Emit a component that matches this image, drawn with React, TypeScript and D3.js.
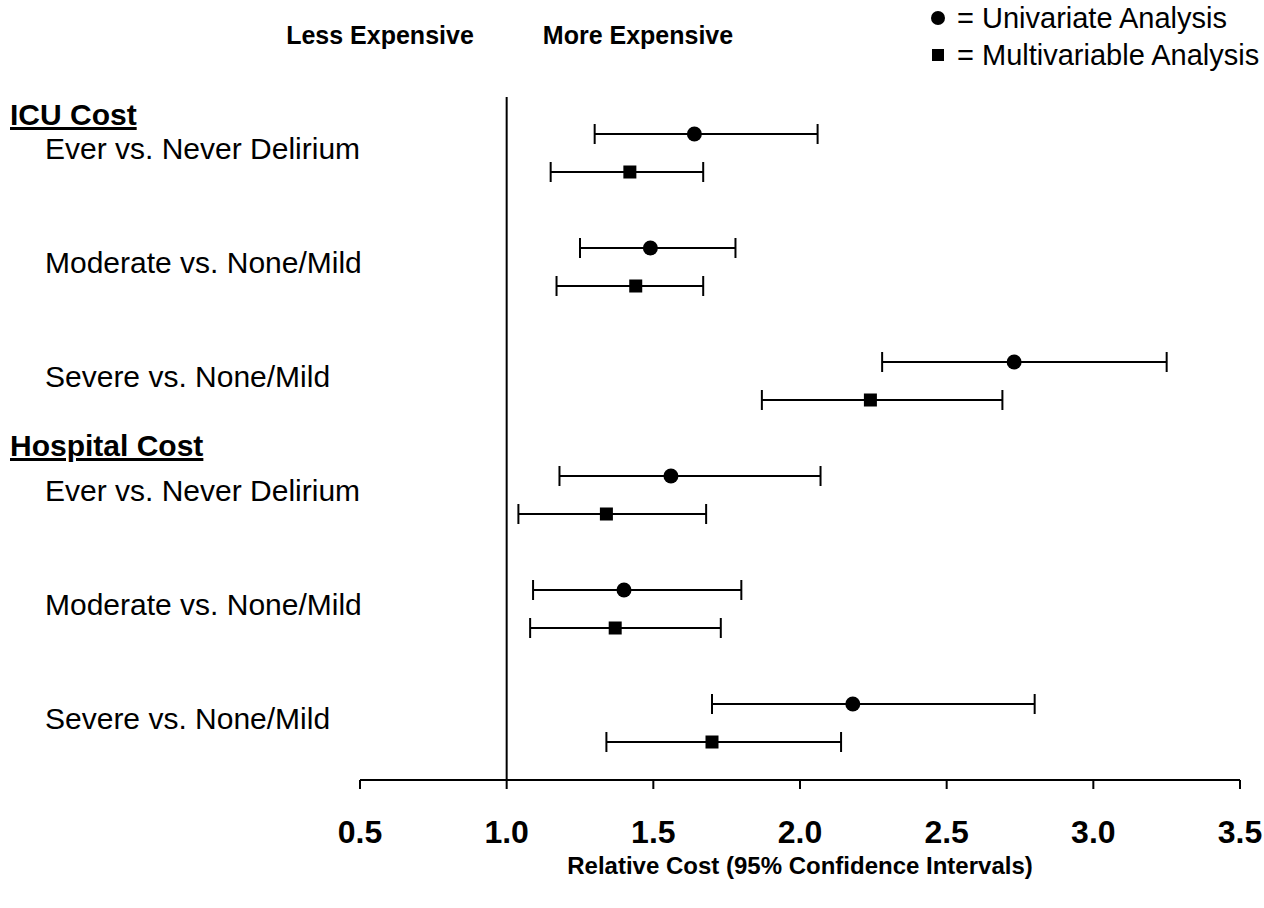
import React from 'react';
import * as d3 from 'd3';

// Data
const groups = ['ICU Cost', 'Hospital Cost'];
const comparisons = ['Ever vs. Never Delirium', 'Moderate vs. None/Mild', 'Severe vs. None/Mild'];

const uniEst = [1.64, 1.49, 2.73, 1.56, 1.40, 2.18];
const uniLow = [1.30, 1.25, 2.28, 1.18, 1.09, 1.70];
const uniHigh = [2.06, 1.78, 3.25, 2.07, 1.80, 2.80];

const multiEst = [1.42, 1.44, 2.24, 1.34, 1.37, 1.70];
const multiLow = [1.15, 1.17, 1.87, 1.04, 1.08, 1.34];
const multiHigh = [1.67, 1.67, 2.69, 1.68, 1.73, 2.14];

const xTicks = [0.5, 1.0, 1.5, 2.0, 2.5, 3.0, 3.5];

const FONT = '"Liberation Sans", Arial, Helvetica, sans-serif';

const App = () => {
  const width = 1264;
  const height = 908;
  const axisY = 780;

  const x = d3.scaleLinear().domain([0.5, 3.5]).range([360, 1240]);
  const rowY = d3.scaleLinear().domain([0, 5]).range([134, 704]);
  const multiOffset = 38;

  const rows = uniEst.map((_, i) => ({
    label: comparisons[i % 3],
    y: rowY(i),
    uni: { lo: uniLow[i], est: uniEst[i], hi: uniHigh[i] },
    multi: { lo: multiLow[i], est: multiEst[i], hi: multiHigh[i] },
  }));

  const capH = 10;
  const bar = (d: { lo: number; est: number; hi: number }, y: number) => (
    <g>
      <line x1={x(d.lo)} x2={x(d.hi)} y1={y} y2={y} stroke="#000" strokeWidth={2} />
      <line x1={x(d.lo)} x2={x(d.lo)} y1={y - capH} y2={y + capH} stroke="#000" strokeWidth={2} />
      <line x1={x(d.hi)} x2={x(d.hi)} y1={y - capH} y2={y + capH} stroke="#000" strokeWidth={2} />
    </g>
  );

  return (
    <svg
      width={width}
      height={height}
      style={{ position: 'absolute', left: 0, top: 0, background: '#fff' }}
      fontFamily={FONT}
    >
      {/* header */}
      <text x={380} y={44} fontSize={25} fontWeight="bold" textAnchor="middle">Less Expensive</text>
      <text x={638} y={44} fontSize={25} fontWeight="bold" textAnchor="middle">More Expensive</text>

      {/* legend */}
      <circle cx={938} cy={18} r={7} fill="#000" />
      <text x={957} y={28} fontSize={29}>= Univariate Analysis</text>
      <rect x={932} y={49} width={12} height={12} fill="#000" />
      <text x={957} y={65} fontSize={29}>= Multivariable Analysis</text>

      {/* group headers */}
      {groups.map((g, gi) => {
        const yy = gi === 0 ? rowY(0) - 9 : rowY(3) - 20;
        return (
          <text key={g} x={10} y={yy} fontSize={30} fontWeight="bold" textDecoration="underline">{g}</text>
        );
      })}

      {/* row labels */}
      {rows.map((r, i) => (
        <text key={i} x={45} y={r.y + multiOffset / 2 + 6} fontSize={30}>{r.label}</text>
      ))}

      {/* reference line at 1.0 */}
      <line x1={x(1)} x2={x(1)} y1={97} y2={axisY} stroke="#000" strokeWidth={2} />

      {/* intervals and markers */}
      {rows.map((r, i) => (
        <g key={'r' + i}>
          {bar(r.uni, r.y)}
          <circle cx={x(r.uni.est)} cy={r.y} r={7.5} fill="#000" />
          {bar(r.multi, r.y + multiOffset)}
          <rect x={x(r.multi.est) - 6.5} y={r.y + multiOffset - 6.5} width={13} height={13} fill="#000" />
        </g>
      ))}

      {/* x axis */}
      <line x1={x(0.5)} x2={x(3.5)} y1={axisY} y2={axisY} stroke="#000" strokeWidth={2} />
      {xTicks.map((t) => (
        <g key={t}>
          <line x1={x(t)} x2={x(t)} y1={axisY} y2={axisY + 9} stroke="#000" strokeWidth={2} />
          <text x={x(t)} y={843} fontSize={32} fontWeight="bold" textAnchor="middle">{t.toFixed(1)}</text>
        </g>
      ))}
      <text x={800} y={874} fontSize={24} fontWeight="bold" textAnchor="middle">
        Relative Cost (95% Confidence Intervals)
      </text>
    </svg>
  );
};

export default App;
